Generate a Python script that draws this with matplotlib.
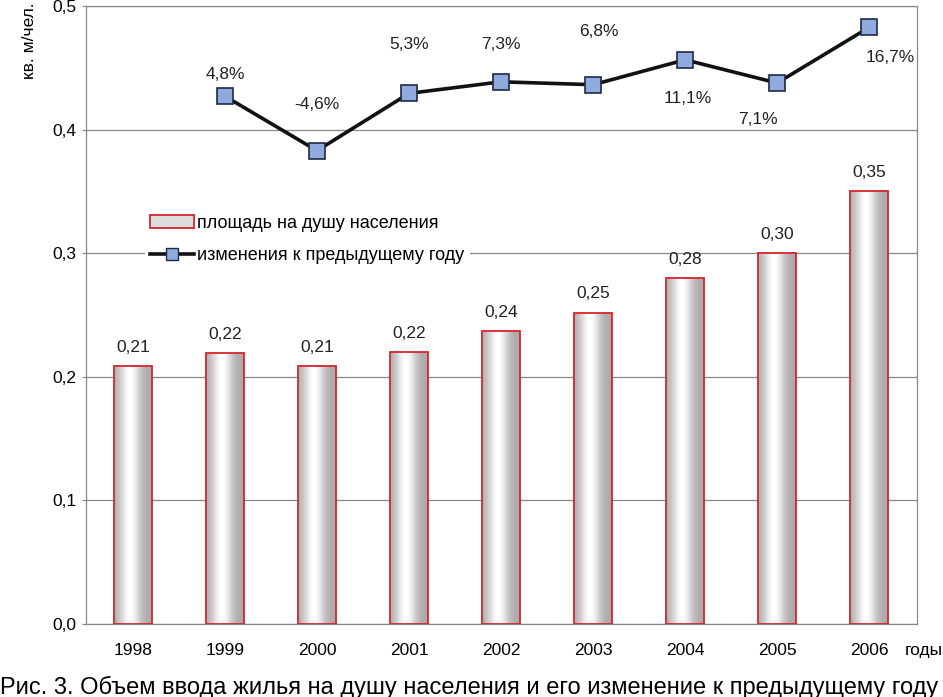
import numpy as np
import matplotlib
matplotlib.use("Agg")
import matplotlib.pyplot as plt
from matplotlib import font_manager
from matplotlib.patches import Patch
from matplotlib.lines import Line2D

names = {f.name for f in font_manager.fontManager.ttflist}
narrow = 'Liberation Sans Narrow' if 'Liberation Sans Narrow' in names else 'Liberation Sans'
plt.rcParams['font.family'] = ['Liberation Sans', 'DejaVu Sans']

years = ['1998', '1999', '2000', '2001', '2002', '2003', '2004', '2005', '2006']
area = [0.209, 0.219, 0.209, 0.220, 0.237, 0.252, 0.280, 0.300, 0.350]
area_labels = ['0,21', '0,22', '0,21', '0,22', '0,24', '0,25', '0,28', '0,30', '0,35']
change = [None, 4.8, -4.6, 5.3, 7.3, 6.8, 11.1, 7.1, 16.7]
change_labels = ['', '4,8%', '-4,6%', '5,3%', '7,3%', '6,8%', '11,1%', '7,1%', '16,7%']
# label offsets in points (dx, dy)
change_offsets = [(0, 0), (0, 16), (0, 33), (0, 35), (0, 27), (4, 38), (2, -28), (-14, -26), (15, -22)]

fig = plt.figure(figsize=(9.43, 6.97), dpi=100)
ax = fig.add_axes([86/943, 1-624/697, (917-86)/943, (624-6)/697])

x = np.arange(len(years))
bars = ax.bar(x, area, width=0.41, facecolor='none', edgecolor='#d9232e', linewidth=1.3, zorder=3)

# horizontal gradient inside the bars
t = np.linspace(0, 1, 200)
g = 0.66 + 0.34 * np.exp(-((t - 0.42) / 0.28) ** 2)
g = np.clip(g, 0, 1)
grad = np.repeat(np.dstack([g, g, g]), 2, axis=0)
for b in bars:
    x0, w, h = b.get_x(), b.get_width(), b.get_height()
    im = ax.imshow(grad, extent=[x0, x0 + w, 0, h], aspect='auto', zorder=2, interpolation='bilinear')
    im.set_clip_path(b)

for xi, v, lab in zip(x, area, area_labels):
    ax.annotate(lab, (xi, v), xytext=(0, 8), textcoords='offset points',
                ha='center', va='bottom', fontsize=12.5, color='#222222')

ax.set_xlim(-0.51, 8.52)
ax.set_ylim(0, 0.5)
ax.set_yticks(np.arange(0, 0.51, 0.1))
ax.set_yticklabels([f'{v:.1f}'.replace('.', ',') for v in np.arange(0, 0.51, 0.1)], fontsize=12.5)
ax.set_xticks(x)
ax.set_xticklabels(years, fontsize=12.5, family=[narrow, 'DejaVu Sans'])
ax.tick_params(axis='x', length=0, pad=14)
ax.tick_params(axis='y', length=3, color='#888888', pad=4)
ax.grid(axis='y', color='#888888', linewidth=0.9, zorder=0)
for s in ax.spines.values():
    s.set_color('#888888')
    s.set_linewidth(0.9)

# change line on a hidden secondary scale
ax2 = ax.twinx()
ax2.set_ylim(-86.4, 20.4)
ax2.axis('off')
cx = [i for i, c in enumerate(change) if c is not None]
cy = [c for c in change if c is not None]
ax2.plot(cx, cy, color='#111111', linewidth=2.6, marker='s', markersize=11,
         markerfacecolor='#8faadc', markeredgecolor='#1f2a44', markeredgewidth=1.2, zorder=5)
for xi, c, lab, off in zip(x, change, change_labels, change_offsets):
    if c is None:
        continue
    ax2.annotate(lab, (xi, c), xytext=off, textcoords='offset points',
                 ha='center', va='center', fontsize=12.5, color='#222222')

# legend
h1 = Patch(facecolor='#dcdcdc', edgecolor='#d9232e', linewidth=1.3, label='площадь на душу населения')
h2 = Line2D([], [], color='#111111', linewidth=2.6, marker='s', markersize=9,
            markerfacecolor='#8faadc', markeredgecolor='#1f2a44', label='изменения к предыдущему году')
leg = ax.legend(handles=[h1, h2], loc='upper left', bbox_to_anchor=(0.06, 0.685),
                frameon=True, framealpha=1, edgecolor='none', fontsize=13,
                handlelength=2.4, handletextpad=0.2, labelspacing=0.85, borderpad=0.3)
leg.set_zorder(10)

fig.text(30/943, 1-2/697, 'кв. м/чел.', rotation=90, ha='center', va='top', fontsize=12.5)
fig.text(905/943, 1-650/697, 'годы', ha='left', va='center', fontsize=12.5, family=[narrow, 'DejaVu Sans'])
fig.text(0, 1-687/697, 'Рис. 3. Объем ввода жилья на душу населения и его изменение к предыдущему году',
         ha='left', va='center', fontsize=17, family=[narrow, 'DejaVu Sans'])

fig.savefig('out.png', dpi=100)
